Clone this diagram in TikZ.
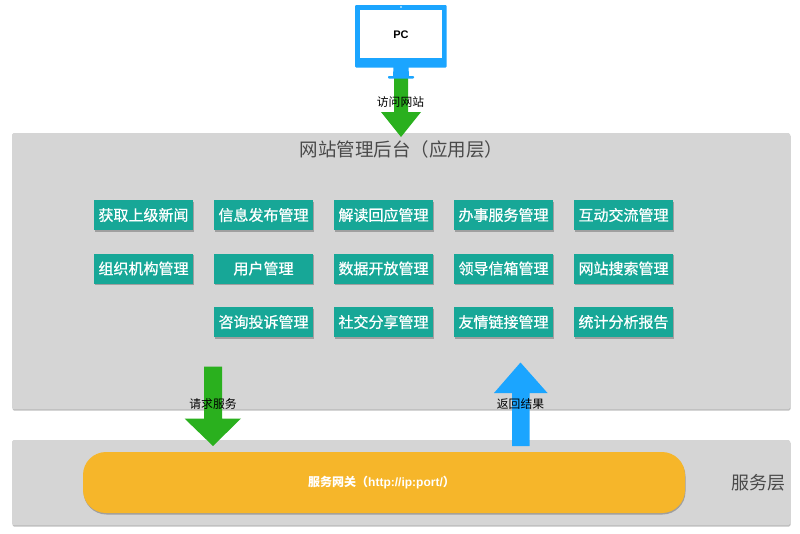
\documentclass[tikz,border=0pt]{standalone}
\usepackage{fontspec}
\setmainfont{Noto Sans CJK SC}
\newfontfamily\boxfont[FakeBold=0.7]{Noto Sans CJK SC}
\newfontfamily\latinbold{Liberation Sans}[BoldFont={Liberation Sans Bold}]
\usetikzlibrary{shadows}
\definecolor{panelgray}{HTML}{D5D5D5}
\definecolor{teal}{HTML}{17A797}
\definecolor{gold}{HTML}{F6B62A}
\definecolor{grn}{HTML}{2AB01E}
\definecolor{blu}{HTML}{1BA5FF}
\definecolor{inktxt}{HTML}{4A4A4A}
\tikzset{
  softshadow/.style={general shadow={shadow xshift=0.5pt,shadow yshift=-1.5pt,fill=black,opacity=.25}},
  panel/.style={fill=panelgray,rounded corners=1.5pt,softshadow},
  tbox/.style={draw=none,fill=teal,minimum width=99pt,minimum height=30pt,inner sep=0pt,text=white,
     font=\fontsize{15pt}{18pt}\boxfont,softshadow},
  blockg/.style={fill=grn,draw=none},
  blockb/.style={fill=blu,draw=none},
  lbl/.style={inner sep=0pt,text=black,font=\fontsize{11.8pt}{14pt}\selectfont},
}
\begin{document}
\begin{tikzpicture}[x=1pt,y=-1pt]
\useasboundingbox (0,0) rectangle (800,533);
\fill[white] (0,0) rectangle (800,533);
% panels
\path[panel] (12,133) rectangle (790,409);
\path[panel] (12,440) rectangle (790,525);
\node[inner sep=0pt,text=inktxt,font=\fontsize{18.5pt}{22pt}\selectfont] (title) at (401.5,149) {网站管理后台（应用层）};
\node[inner sep=0pt,text=inktxt,font=\fontsize{18pt}{22pt}\selectfont] (svc) at (758,483) {服务层};
% top arrow and monitor
\fill[blockg] (394,78) -- (408,78) -- (408,112) -- (421,112) -- (401,137) -- (381,112) -- (394,112) -- cycle;
\fill[blu,rounded corners=1pt] (355,5) rectangle (446.5,67.5);
\fill[white] (360,10) rectangle (442,58);
\fill[white] (401,7) circle (0.9);
\fill[blu] (393.5,67) -- (408.5,67) -- (409,76) -- (393,76) -- cycle;
\fill[blu,rounded corners=0.8pt] (388,76) rectangle (414,78.5);
\node[inner sep=0pt,text=black,font=\fontsize{11pt}{13pt}\latinbold\bfseries] (pc) at (401,34.5) {PC};
\node[lbl] (visit) at (400.5,102) {访问网站};
% module boxes
\node[tbox] (a1) at (143.5,215) {获取上级新闻};
\node[tbox] (a2) at (263.5,215) {信息发布管理};
\node[tbox] (a3) at (383.5,215) {解读回应管理};
\node[tbox] (a4) at (503.5,215) {办事服务管理};
\node[tbox] (a5) at (623.5,215) {互动交流管理};
\node[tbox] (b1) at (143.5,268.5) {组织机构管理};
\node[tbox] (b2) at (263.5,268.5) {用户管理};
\node[tbox] (b3) at (383.5,268.5) {数据开放管理};
\node[tbox] (b4) at (503.5,268.5) {领导信箱管理};
\node[tbox] (b5) at (623.5,268.5) {网站搜索管理};
\node[tbox] (c2) at (263.5,322) {咨询投诉管理};
\node[tbox] (c3) at (383.5,322) {社交分享管理};
\node[tbox] (c4) at (503.5,322) {友情链接管理};
\node[tbox] (c5) at (623.5,322) {统计分析报告};
% gateway
\path[fill=gold,rounded corners=23pt,softshadow] (83,452) rectangle (685,513);
\node[inner sep=0pt,text=white,font=\fontsize{12pt}{14pt}\selectfont\bfseries] (gw) at (381.5,482.5) {服务网关（{\latinbold\bfseries http://ip:port/}）};
% lower arrows
\fill[blockg] (204,366.5) -- (222,366.5) -- (222,418.5) -- (241,418.5) -- (213,446) -- (184.5,418.5) -- (204,418.5) -- cycle;
\fill[blockb] (512,446) -- (529.5,446) -- (529.5,393) -- (547.5,393) -- (520.5,362.5) -- (494,393) -- (512,393) -- cycle;
\node[lbl] (req) at (213,404) {请求服务};
\node[lbl] (ret) at (520.5,404.5) {返回结果};
\end{tikzpicture}
\end{document}
